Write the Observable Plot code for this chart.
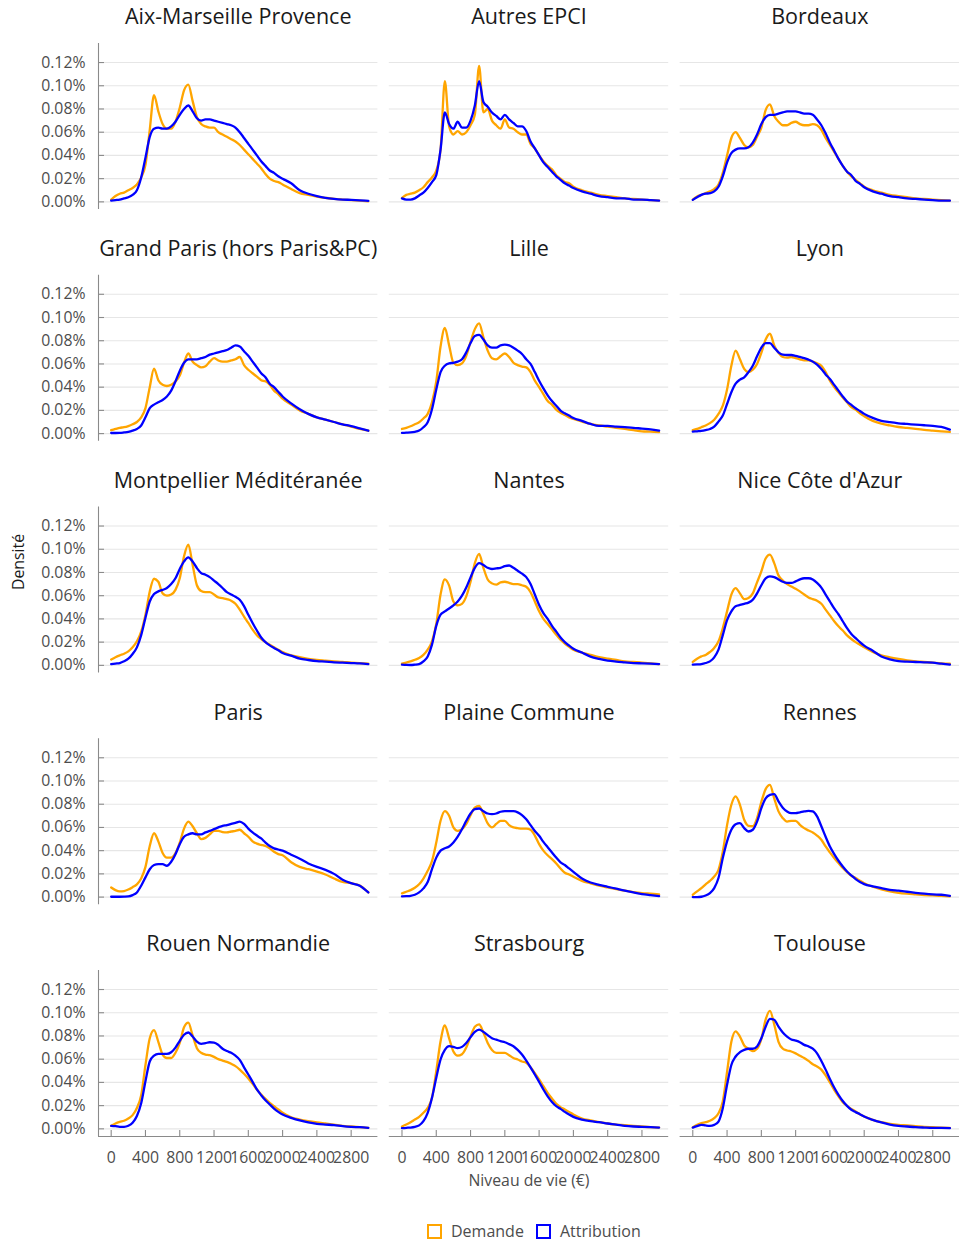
<!DOCTYPE html>
<html><head><meta charset="utf-8">
<script src="https://cdn.jsdelivr.net/npm/d3@7"></script>
<script src="https://cdn.jsdelivr.net/npm/@observablehq/plot@0.6"></script>
<style>
body{margin:0;background:#fff;font-family:"Open Sans",sans-serif;}
#wrap{position:relative;width:959px;height:1245px;overflow:hidden;}
#legend{position:absolute;top:1220px;left:427px;display:flex;align-items:center;font-size:16px;color:#4d4d4d;font-family:"Open Sans",sans-serif;}
.sw{width:11px;height:11px;border:2.5px solid;margin-right:9px;}
.lab{margin-right:12px;}
</style></head><body>
<div id="wrap"><div id="chart"></div>
<div id="legend"><div class="sw" style="border-color:#FFA500"></div><span class="lab">Demande</span><div class="sw" style="border-color:#0000FF"></div><span>Attribution</span></div></div>
<script>
// ---- data (density, in %) ----
const X = [0,50,100,150,200,250,300,350,400,450,500,550,600,650,700,750,800,850,900,950,1000,1050,1100,1150,1200,1250,1300,1350,1400,1450,1500,1550,1600,1650,1700,1750,1800,1850,1900,1950,2000,2100,2200,2300,2400,2500,2600,2700,2800,2900,3000];
const PANELS = ["Aix-Marseille Provence","Autres EPCI","Bordeaux","Grand Paris (hors Paris&PC)","Lille","Lyon","Montpellier Méditéranée","Nantes","Nice Côte d'Azur","Paris","Plaine Commune","Rennes","Rouen Normandie","Strasbourg","Toulouse"];
const SERIES = ["Demande","Attribution"];
const Y_TICKS = [0,0.02,0.04,0.06,0.08,0.10,0.12];
const X_TICKS = [0,400,800,1200,1600,2000,2400,2800];

const aixD = [.002,.005,.007,.008,.010,.012,.015,.021,.032,.062,.092,.078,.067,.063,.063,.069,.081,.096,.101,.087,.073,.067,.065,.064,.064,.060,.058,.056,.054,.052,.049,.045,.041,.037,.033,.029,.024,.020,.018,.017,.015,.011,.0075,.006,.0045,.0035,.0026,.002,.0015,.001,.0005];
const aixA = [.001,.0015,.002,.003,.004,.006,.010,.021,.038,.056,.063,.064,.063,.063,.065,.069,.075,.080,.083,.078,.072,.070,.071,.071,.070,.069,.068,.067,.066,.064,.060,.055,.050,.045,.040,.035,.031,.027,.025,.022,.020,.016,.010,.007,.005,.0035,.0026,.002,.0017,.0013,.0008];
const autD = [.0034,.006,.007,.008,.010,.0126,.017,.021,.027,.045,.104,.065,.058,.061,.058,.060,.066,.075,.117,.077,.080,.070,.066,.063,.071,.064,.063,.060,.058,.058,.050,.046,.040,.035,.031,.028,.023,.020,.017,.016,.013,.010,.008,.006,.005,.004,.003,.0025,.002,.0015,.001];
const autA = [.003,.002,.002,.003,.0055,.008,.012,.017,.023,.045,.077,.067,.063,.069,.064,.064,.070,.083,.104,.086,.082,.077,.074,.071,.075,.071,.068,.065,.065,.061,.052,.046,.040,.034,.030,.026,.022,.019,.016,.014,.012,.009,.007,.005,.004,.003,.003,.002,.002,.0015,.001];
const bdxD = [.002,.0046,.006,.0075,.009,.011,.015,.025,.040,.055,.060,.055,.049,.047,.049,.056,.064,.079,.084,.074,.069,.066,.066,.068,.069,.067,.066,.066,.067,.066,.062,.055,.049,.043,.037,.031,.026,.022,.019,.016,.013,.010,.008,.006,.005,.004,.003,.0025,.002,.0015,.001];
const bdxA = [.0017,.004,.006,.007,.0075,.009,.013,.022,.034,.042,.045,.046,.046,.047,.051,.058,.067,.073,.075,.075,.076,.077,.078,.078,.078,.077,.076,.076,.075,.071,.066,.059,.051,.044,.037,.031,.026,.023,.018,.0155,.0126,.009,.007,.005,.004,.003,.0025,.002,.0015,.001,.001];
const gpD = [.003,.004,.005,.0055,.0065,.008,.010,.014,.022,.040,.056,.046,.042,.041,.042,.045,.050,.061,.069,.062,.059,.057,.058,.062,.065,.063,.062,.062,.063,.064,.066,.059,.055,.052,.049,.046,.045,.042,.037,.034,.030,.025,.020,.017,.014,.012,.010,.008,.006,.004,.0025];
const gpA = [.0005,.0005,.0006,.001,.0015,.0025,.004,.007,.014,.022,.025,.027,.029,.032,.037,.045,.054,.061,.064,.064,.064,.065,.066,.068,.069,.070,.071,.072,.074,.076,.075,.071,.067,.062,.057,.052,.0485,.043,.040,.036,.032,.026,.021,.017,.014,.012,.010,.008,.0065,.0045,.0025];
const lilD = [.004,.005,.0063,.008,.0098,.013,.017,.027,.045,.075,.091,.076,.061,.059,.0605,.067,.079,.090,.095,.083,.0715,.065,.064,.0666,.069,.066,.061,.059,.0577,.057,.053,.0456,.040,.034,.028,.025,.0207,.018,.016,.014,.0126,.0103,.0083,.007,.006,.005,.004,.003,.002,.0017,.0012];
const lilA = [.0006,.0008,.001,.0015,.0026,.0055,.0098,.021,.038,.053,.0585,.0605,.061,.062,.064,.070,.078,.084,.085,.081,.076,.074,.074,.076,.0766,.076,.074,.0715,.0686,.064,.060,.053,.0456,.039,.033,.028,.024,.0198,.0175,.0155,.0135,.011,.0083,.0066,.0066,.006,.0055,.005,.0043,.0037,.0026];
const lyoD = [.003,.004,.0055,.007,.009,.012,.017,.024,.038,.0585,.0715,.064,.0557,.053,.055,.060,.0695,.081,.086,.076,.0695,.066,.0654,.066,.065,.064,.063,.063,.062,.0605,.0585,.053,.0456,.040,.0356,.031,.027,.0227,.0207,.0175,.015,.011,.0086,.007,.0057,.0049,.004,.0032,.0026,.002,.0014];
const lyoA = [.0017,.002,.0023,.003,.004,.006,.0103,.0155,.0255,.0356,.043,.0465,.0485,.053,.0585,.0666,.074,.078,.078,.074,.070,.068,.0677,.0677,.067,.066,.065,.0637,.062,.0594,.0557,.051,.047,.042,.037,.032,.0276,.0247,.0218,.0195,.017,.0135,.011,.0098,.0089,.0083,.0077,.0072,.0066,.0057,.0034];
const mtpD = [.005,.007,.0086,.010,.012,.0155,.0207,.029,.0436,.0637,.0746,.072,.062,.060,.061,.065,.075,.094,.104,.0867,.069,.064,.063,.063,.061,.0585,.058,.057,.0557,.053,.048,.042,.0365,.0307,.026,.0227,.020,.0178,.0155,.0135,.0115,.0086,.007,.0055,.0046,.004,.0034,.003,.0023,.002,.0014];
const mtpA = [.001,.0015,.002,.0035,.0057,.0098,.0155,.026,.041,.055,.0614,.0637,.065,.0666,.070,.075,.083,.0895,.093,.0895,.0838,.0795,.078,.076,.073,.070,.0666,.063,.061,.059,.0565,.051,.0436,.0365,.030,.024,.020,.0172,.015,.013,.0106,.0083,.0057,.0046,.0037,.0032,.0026,.0023,.002,.0017,.0011];
const ntsD = [.0014,.0024,.0034,.0048,.0063,.009,.0135,.0207,.0356,.061,.074,.0686,.055,.0517,.053,.0594,.072,.088,.096,.084,.074,.0706,.0695,.0715,.072,.071,.070,.070,.069,.0677,.063,.055,.0465,.040,.0356,.031,.0264,.022,.0187,.016,.0135,.011,.009,.007,.0057,.0046,.0034,.0029,.0023,.0017,.0011];
const ntsA = [.0006,.0004,.0003,.0006,.0011,.0034,.0077,.0178,.034,.0436,.0465,.049,.0517,.055,.060,.067,.0758,.084,.088,.0864,.084,.083,.0835,.084,.0855,.086,.084,.0815,.079,.076,.070,.061,.052,.045,.040,.034,.029,.024,.020,.017,.0143,.011,.0075,.0055,.004,.0032,.0026,.002,.0017,.0014,.0011];
const niceD = [.0029,.0057,.0077,.009,.0115,.015,.0207,.032,.0465,.061,.0666,.062,.057,.058,.062,.0715,.081,.092,.0953,.088,.0775,.073,.070,.068,.066,.0637,.061,.0585,.057,.0557,.053,.048,.043,.038,.0336,.030,.0258,.0227,.020,.0178,.0155,.0115,.0086,.0069,.0055,.0043,.0034,.0029,.0023,.0017,.0014];
const niceA = [.0006,.0008,.0011,.002,.0034,.0069,.0135,.026,.039,.0465,.051,.052,.053,.054,.0565,.062,.069,.075,.0766,.076,.074,.072,.071,.071,.0723,.074,.075,.075,.074,.071,.067,.061,.055,.049,.044,.038,.032,.027,.0235,.020,.017,.0126,.0077,.0052,.0037,.0032,.0029,.0026,.0023,.0014,.0006];
const parD = [.0083,.006,.0049,.0052,.0065,.0085,.011,.016,.026,.044,.055,.048,.038,.034,.034,.038,.047,.059,.065,.061,.055,.050,.051,.054,.057,.057,.056,.0557,.0565,.057,.058,.055,.052,.048,.046,.045,.044,.042,.039,.037,.036,.030,.026,.024,.022,.0195,.016,.013,.012,.010,.004];
const parA = [.0003,.0003,.0003,.0004,.0006,.0017,.004,.0098,.017,.024,.0276,.0284,.0284,.027,.0304,.037,.0456,.052,.054,.055,.054,.054,.0557,.057,.0585,.060,.0614,.062,.063,.064,.065,.063,.059,.0557,.053,.0505,.047,.044,.042,.041,.040,.0365,.033,.029,.026,.0235,.020,.015,.012,.0098,.004];
const pcD = [.0032,.0046,.006,.008,.011,.016,.0227,.031,.047,.0657,.074,.070,.060,.057,.0585,.063,.0706,.077,.0786,.0715,.0634,.060,.063,.0657,.0657,.062,.060,.0594,.059,.059,.058,.053,.0456,.040,.036,.0327,.029,.0247,.021,.0195,.0175,.014,.0118,.0098,.0083,.0069,.0055,.0043,.0034,.0029,.0023];
const pcA = [.0006,.0008,.0011,.002,.004,.0075,.013,.024,.034,.040,.042,.0436,.047,.052,.0585,.0657,.072,.0758,.0763,.074,.072,.0715,.072,.0735,.074,.074,.074,.073,.0706,.067,.062,.057,.0528,.0476,.043,.0385,.034,.030,.0276,.0247,.0218,.016,.0126,.0106,.0089,.0072,.0055,.004,.0026,.0017,.0009];
const renD = [.002,.0049,.0077,.011,.014,.0178,.0235,.039,.062,.0795,.0867,.0795,.0666,.0614,.061,.068,.082,.093,.0967,.085,.0738,.068,.065,.0657,.0657,.0623,.0594,.0574,.0557,.053,.0494,.0436,.0385,.0336,.0293,.025,.0215,.0184,.0164,.014,.012,.0089,.0066,.0049,.0037,.0029,.0023,.0017,.0014,.0011,.0006];
const renA = [0,0,.0003,.0014,.0034,.0077,.0164,.0336,.048,.058,.0628,.0637,.0594,.0565,.058,.065,.0766,.085,.088,.0887,.0824,.077,.0738,.0723,.0723,.073,.0738,.0743,.0738,.0695,.061,.052,.0436,.037,.0313,.0264,.022,.0187,.0155,.013,.0112,.0092,.0077,.0063,.0055,.0046,.0037,.0029,.0023,.002,.0011];
const rouD = [.0026,.0046,.006,.007,.0089,.0118,.018,.029,.055,.078,.085,.075,.064,.061,.061,.0655,.074,.0875,.0915,.0805,.0695,.0655,.064,.0634,.062,.060,.0588,.0577,.056,.054,.051,.0474,.0433,.0387,.0339,.0296,.0258,.0224,.0195,.0167,.0138,.010,.008,.0066,.0055,.0046,.0037,.0026,.002,.0014,.0009];
const rouA = [.0026,.0023,.0017,.0017,.0026,.0052,.011,.022,.041,.058,.063,.0646,.0646,.0646,.066,.070,.0758,.081,.083,.0795,.0752,.0732,.0738,.0746,.0743,.0723,.069,.067,.0655,.063,.0594,.053,.0468,.0405,.0339,.029,.0247,.021,.0175,.0146,.0123,.0095,.0072,.0055,.0043,.0037,.0032,.0023,.0017,.0014,.0009];
const strD = [.002,.0037,.0057,.008,.0103,.0138,.018,.0267,.0497,.0755,.089,.078,.0666,.063,.0643,.070,.0795,.088,.090,.083,.074,.068,.0655,.0655,.0655,.0634,.061,.0597,.058,.0568,.053,.048,.0425,.0367,.031,.0261,.0215,.0187,.0167,.0146,.0123,.0089,.0072,.0057,.0046,.0037,.0032,.0026,.002,.0014,.0011];
const strA = [.0006,.0009,.0011,.0017,.003,.0066,.0138,.0267,.044,.0597,.068,.0712,.0706,.0695,.0706,.074,.079,.0835,.0855,.0835,.0807,.078,.0768,.0755,.0746,.073,.0712,.068,.064,.0588,.053,.0468,.0405,.0339,.028,.0232,.0195,.0172,.0146,.0123,.0103,.008,.0066,.0057,.0046,.0037,.0026,.002,.0017,.0014,.0011];
const tlsD = [.0014,.0034,.0049,.0057,.0069,.0092,.0135,.0235,.049,.075,.084,.0795,.0718,.069,.067,.069,.0775,.094,.1016,.090,.075,.069,.0675,.0666,.065,.063,.061,.0585,.0557,.0537,.051,.046,.040,.0336,.028,.023,.0198,.0172,.015,.0126,.0106,.0077,.0057,.0043,.0034,.0029,.0023,.0017,.0014,.0011,.0009];
const tlsA = [.0011,.0023,.0034,.0029,.0026,.0034,.0063,.0178,.0379,.055,.0623,.066,.068,.069,.069,.071,.078,.088,.0947,.094,.088,.083,.0795,.077,.076,.0746,.0723,.071,.069,.065,.0585,.051,.043,.0356,.0293,.024,.0198,.0164,.0144,.0126,.0106,.0077,.0055,.0037,.0026,.002,.0014,.0011,.0009,.0009,.0006];

const DEMANDE = [aixD,autD,bdxD,gpD,lilD,lyoD,mtpD,ntsD,niceD,parD,pcD,renD,rouD,strD,tlsD];
const ATTRIB = [aixA,autA,bdxA,gpA,lilA,lyoA,mtpA,ntsA,niceA,parA,pcA,renA,rouA,strA,tlsA];

// ---- layout ----
const W = 959, H = 1200, ML = 98, MR = 0, MT = 43, MB = 64;
const PAD_X = 0.0392, PAD_Y = 0.2836;
const X_DOMAIN = [-148, 3112], Y_DOMAIN = [-0.0066, 0.1364];
const bandW = (W - ML - MR) / (3 - PAD_X) * (1 - PAD_X);
const bandH = (H - MT - MB) / (5 - PAD_Y) * (1 - PAD_Y);
const AXIS = "#8a8a8a", TXT = "#4d4d4d";

const panelRows = PANELS.map((name, i) => ({name, col: i % 3, row: Math.floor(i / 3)}));
const lineRows = [];
[DEMANDE, ATTRIB].forEach((arrs, s) => {
  panelRows.forEach((p, i) => {
    X.forEach((x, j) => lineRows.push({col: p.col, row: p.row, type: SERIES[s], x, y: arrs[i][j]}));
  });
});
const gridRows = panelRows.flatMap(p => Y_TICKS.map(v => ({col: p.col, row: p.row, v})));
const leftPanels = panelRows.filter(p => p.col === 0);
const leftRows = gridRows.filter(d => d.col === 0);
const bottomPanels = panelRows.filter(p => p.row === 4);
const xTickRows = bottomPanels.flatMap(p => X_TICKS.map(v => ({col: p.col, row: p.row, v})));
const F = {fx: "col", fy: "row"};

const chart = Plot.plot({
  width: W, height: H,
  marginLeft: ML, marginRight: MR, marginTop: MT, marginBottom: MB,
  style: {fontFamily: "'Open Sans', sans-serif", background: "#fff"},
  fx: {domain: [0, 1, 2], paddingInner: PAD_X, paddingOuter: 0, round: false, axis: null},
  fy: {domain: [0, 1, 2, 3, 4], paddingInner: PAD_Y, paddingOuter: 0, round: false, axis: null},
  x: {domain: X_DOMAIN, axis: null},
  y: {domain: Y_DOMAIN, axis: null},
  color: {domain: SERIES, range: ["#FFA500", "#0000FF"]},
  marks: [
    Plot.ruleY(gridRows, {...F, y: "v", stroke: "#e6e6e6", strokeWidth: 1.1}),
    Plot.ruleX(leftPanels, {...F, x: () => X_DOMAIN[0], stroke: AXIS, strokeWidth: 1.1}),
    Plot.ruleY(leftRows, {...F, y: "v", insetRight: bandW - 6, stroke: AXIS, strokeWidth: 1.1}),
    Plot.text(leftRows, {...F, y: "v", frameAnchor: "left", textAnchor: "end", lineAnchor: "middle", dx: -13,
      text: d => d.v.toFixed(2) + "%", fill: TXT, fontSize: 15.8}),
    Plot.ruleY(bottomPanels, {...F, y: () => Y_DOMAIN[0], stroke: AXIS, strokeWidth: 1.1}),
    Plot.ruleX(xTickRows, {...F, x: "v", insetTop: bandH - 6, stroke: AXIS, strokeWidth: 1.1}),
    Plot.text(xTickRows, {...F, x: "v", frameAnchor: "bottom", lineAnchor: "middle", dy: 21, text: d => String(d.v), fill: TXT, fontSize: 15.8}),
    Plot.line(lineRows, {...F, x: "x", y: "y", z: "type", stroke: "type", strokeWidth: 2.3, curve: "monotone-x"}),
    Plot.text(panelRows, {...F, frameAnchor: "top", lineAnchor: "middle", dy: -26, text: "name", fill: "#1a1a1a", fontSize: 21.5}),
    Plot.text([{col: 1, row: 4}], {...F, frameAnchor: "bottom", lineAnchor: "middle", dy: 44, text: () => "Niveau de vie (€)", fill: TXT, fontSize: 15.8}),
    Plot.text([{col: 0, row: 2}], {...F, frameAnchor: "left", lineAnchor: "middle", dx: -80, rotate: -90, text: () => "Densité", fill: "#1a1a1a", fontSize: 15.8})
  ]
});
document.getElementById("chart").appendChild(chart);
</script>
</body></html>
